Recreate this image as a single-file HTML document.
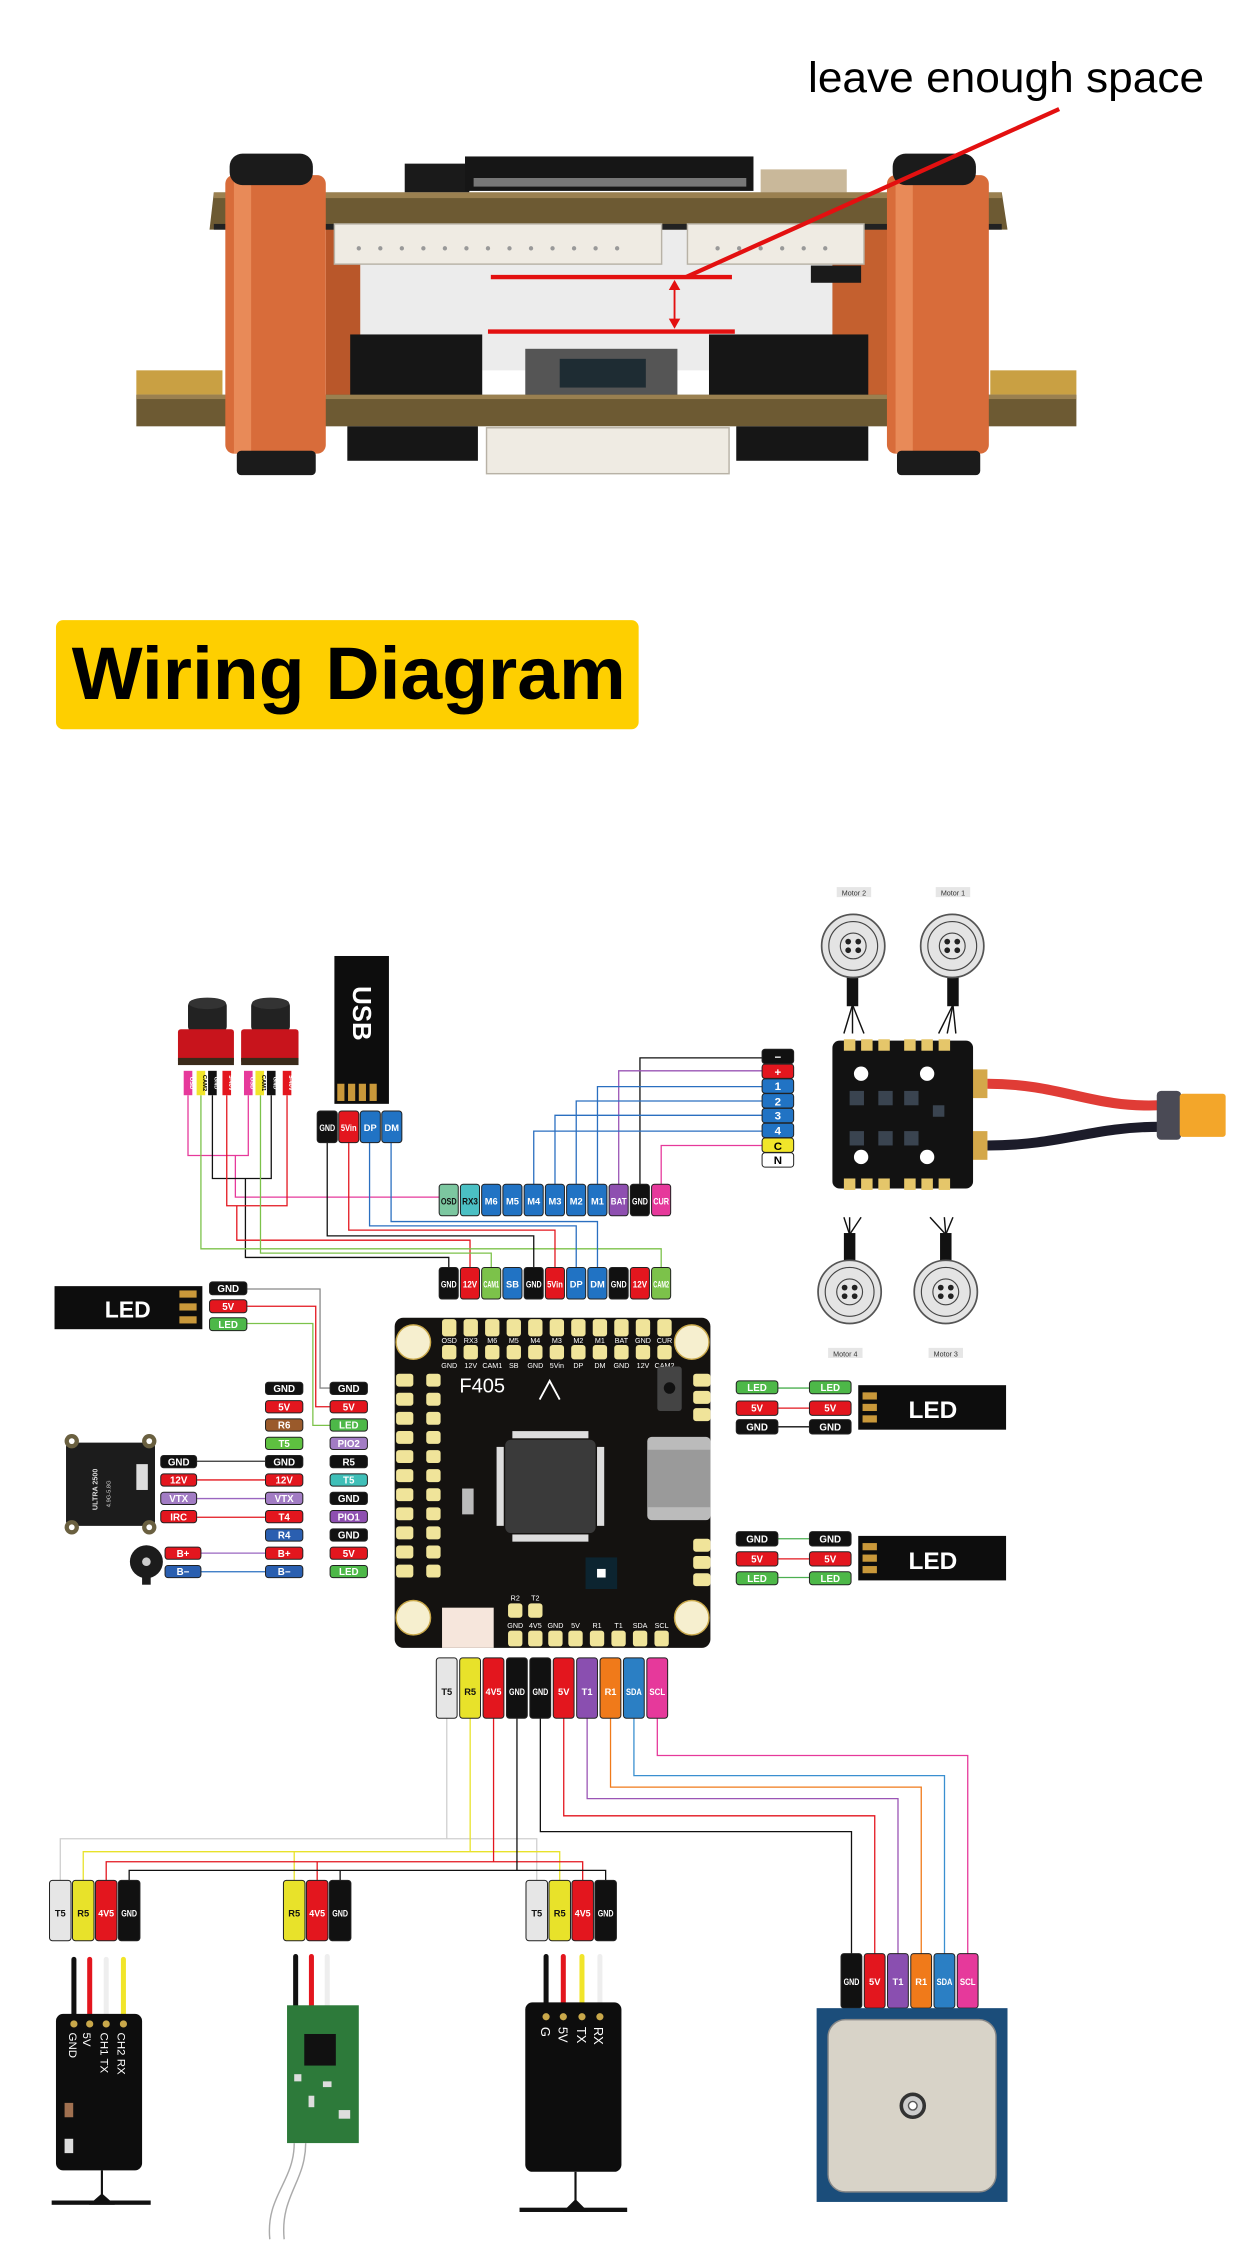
<!DOCTYPE html>
<html><head><meta charset="utf-8"><style>
html,body{margin:0;padding:0;background:#fff}
svg{display:block}
.t{font-family:"Liberation Sans",sans-serif;font-weight:bold;text-anchor:middle}
.w{fill:none;stroke-width:0.9}
.p{stroke:#222;stroke-width:0.7}
</style></head><body>
<svg width="1240" height="2245" viewBox="0 0 864 1564" preserveAspectRatio="none" xmlns="http://www.w3.org/2000/svg">
<rect width="864" height="1564" fill="#fff"/>

<!-- ===== TOP PHOTO ===== -->
<rect x="240" y="158" width="350" height="100" fill="#ececec"/>
<rect x="580" y="150" width="40" height="130" fill="#c4602f"/>
<rect x="227" y="150" width="24" height="130" fill="#b9572a"/>
<rect x="282" y="114" width="45" height="20" fill="#1a1a1a"/>
<rect x="324" y="109" width="201" height="24" fill="#161616"/>
<g fill="#777"><rect x="330" y="124" width="190" height="6"/></g>
<rect x="530" y="118" width="60" height="16" fill="#c9b89a"/>
<polygon points="149,134 698,134 702,160 146,160" fill="#6d5a33"/>
<rect x="149" y="134" width="549" height="4" fill="#9a8050"/>
<rect x="149" y="156" width="549" height="4" fill="#222"/>
<rect x="233" y="156" width="228" height="28" fill="#efebe3" stroke="#b8b2a6"/>
<rect x="479" y="156" width="123" height="28" fill="#efebe3" stroke="#b8b2a6"/>
<g fill="#999"><circle cx="250" cy="173" r="1.5"/><circle cx="265" cy="173" r="1.5"/><circle cx="280" cy="173" r="1.5"/><circle cx="295" cy="173" r="1.5"/><circle cx="310" cy="173" r="1.5"/><circle cx="325" cy="173" r="1.5"/><circle cx="340" cy="173" r="1.5"/><circle cx="355" cy="173" r="1.5"/><circle cx="370" cy="173" r="1.5"/><circle cx="385" cy="173" r="1.5"/><circle cx="400" cy="173" r="1.5"/><circle cx="415" cy="173" r="1.5"/><circle cx="430" cy="173" r="1.5"/><circle cx="500" cy="173" r="1.5"/><circle cx="515" cy="173" r="1.5"/><circle cx="530" cy="173" r="1.5"/><circle cx="545" cy="173" r="1.5"/><circle cx="560" cy="173" r="1.5"/><circle cx="575" cy="173" r="1.5"/></g>
<rect x="565" y="185" width="35" height="12" fill="#1a1a1a"/>
<rect x="244" y="233" width="92" height="44" fill="#161616"/>
<rect x="494" y="233" width="111" height="44" fill="#161616"/>
<rect x="366" y="243" width="106" height="34" fill="#555"/>
<rect x="390" y="250" width="60" height="20" fill="#1e2c33"/>
<rect x="95" y="258" width="60" height="17" fill="#c9a043"/>
<rect x="690" y="258" width="60" height="17" fill="#c9a043"/>
<rect x="95" y="275" width="655" height="22" fill="#6d5a33"/>
<rect x="95" y="275" width="655" height="3" fill="#9a8050"/>
<rect x="242" y="297" width="91" height="24" fill="#161616"/>
<rect x="513" y="297" width="92" height="24" fill="#161616"/>
<rect x="339" y="298" width="169" height="32" fill="#efebe3" stroke="#b8b2a6"/>
<rect x="157" y="122" width="70" height="194" rx="6" fill="#d86c3a"/>
<rect x="163" y="122" width="12" height="194" fill="#e88a58"/>
<rect x="618" y="122" width="71" height="194" rx="6" fill="#d86c3a"/>
<rect x="624" y="122" width="12" height="194" fill="#e88a58"/>
<rect x="160" y="107" width="58" height="22" rx="9" fill="#1b1b1b"/>
<rect x="622" y="107" width="58" height="22" rx="9" fill="#1b1b1b"/>
<rect x="165" y="314" width="55" height="17" rx="3" fill="#1b1b1b"/>
<rect x="625" y="314" width="58" height="17" rx="3" fill="#1b1b1b"/>
<text x="701" y="64" font-family="Liberation Sans,sans-serif" font-size="30" text-anchor="middle" textLength="276" lengthAdjust="spacingAndGlyphs" fill="#000">leave enough space</text>
<line x1="738" y1="76" x2="478" y2="193" stroke="#e31010" stroke-width="3"/>
<line x1="342" y1="193" x2="510" y2="193" stroke="#e31010" stroke-width="3"/>
<line x1="340" y1="231" x2="512" y2="231" stroke="#e31010" stroke-width="3"/>
<line x1="470" y1="198" x2="470" y2="226" stroke="#e31010" stroke-width="1.3"/>
<polygon points="470,195 466,202 474,202" fill="#e31010"/><polygon points="470,229 466,222 474,222" fill="#e31010"/>

<!-- title -->
<rect x="39" y="432" width="406" height="76" rx="5" fill="#fecf00"/>
<text x="243" y="487" font-family="Liberation Sans,sans-serif" font-weight="bold" font-size="52" text-anchor="middle" textLength="386" lengthAdjust="spacingAndGlyphs" fill="#000">Wiring Diagram</text>

<!-- ===== WIRES TOP ===== -->
<g class="w">
<polyline stroke="#e6399b" points="131,763 131,805 173,805 173,763"/>
<polyline stroke="#e6399b" points="164,805 164,834 306,834"/>
<polyline stroke="#111" points="148,763 148,821 189,821 189,763"/>
<polyline stroke="#111" points="171,821 171,876 312.7,876 312.7,883"/>
<polyline stroke="#e3161e" points="158,763 158,840 200,840 200,763"/>
<polyline stroke="#e3161e" points="165,840 165,864 327.5,864 327.5,883"/>
<polyline stroke="#7cc24a" points="140,763 140,870 460.7,870 460.7,883"/>
<polyline stroke="#7cc24a" points="181.5,763 181.5,873 342.3,873 342.3,883"/>
<polyline stroke="#111" points="228,796 228,861 371.9,861 371.9,883"/>
<polyline stroke="#e3161e" points="243,796 243,857 386.7,857 386.7,883"/>
<polyline stroke="#2a6fc0" points="257.5,796 257.5,854 401.5,854 401.5,883"/>
<polyline stroke="#2a6fc0" points="272.5,796 272.5,851 416.3,851 416.3,883"/>
<polyline stroke="#111" points="531,737 445.9,737 445.9,825"/>
<polyline stroke="#9a55b5" points="531,746 431.1,746 431.1,825"/>
<polyline stroke="#2a6fc0" points="531,757 416.3,757 416.3,825"/>
<polyline stroke="#2a6fc0" points="531,767 401.5,767 401.5,825"/>
<polyline stroke="#2a6fc0" points="531,777 386.7,777 386.7,825"/>
<polyline stroke="#2a6fc0" points="531,788 371.9,788 371.9,825"/>
<polyline stroke="#e6399b" points="531,798 460.7,798 460.7,825"/>
<polyline stroke="#888" points="172,898 223,898 223,967 230,967"/>
<polyline stroke="#e3161e" points="172,910 220,910 220,980 230,980"/>
<polyline stroke="#7cc24a" points="172,922 218,922 218,993 230,993"/>
<line stroke="#333" x1="137" y1="1018" x2="185" y2="1018"/>
<line stroke="#e3161e" x1="137" y1="1031" x2="185" y2="1031"/>
<line stroke="#9a66c0" x1="137" y1="1044" x2="185" y2="1044"/>
<line stroke="#e3161e" x1="137" y1="1057" x2="185" y2="1057"/>
<line stroke="#9a66c0" x1="140" y1="1082" x2="185" y2="1082"/>
<line stroke="#2a6fc0" x1="140" y1="1095" x2="185" y2="1095"/>
<line stroke="#4caf50" x1="542" y1="967" x2="564" y2="967"/>
<line stroke="#e3161e" x1="542" y1="981" x2="564" y2="981"/>
<line stroke="#111" x1="542" y1="994" x2="564" y2="994"/>
<line stroke="#4caf50" x1="542" y1="1072" x2="564" y2="1072"/>
<line stroke="#e3161e" x1="542" y1="1086" x2="564" y2="1086"/>
<line stroke="#4caf50" x1="542" y1="1099" x2="564" y2="1099"/>
</g>

<!-- cameras -->
<g>
<rect x="131" y="697" width="27" height="22" rx="4" fill="#222"/><ellipse cx="144.5" cy="699" rx="13" ry="4" fill="#333"/>
<rect x="124" y="717" width="39" height="24" rx="2" fill="#c8141c"/><rect x="124" y="737" width="39" height="5" fill="#3a2a1a"/>
<rect x="175" y="697" width="27" height="22" rx="4" fill="#222"/><ellipse cx="188.5" cy="699" rx="13" ry="4" fill="#333"/>
<rect x="168" y="717" width="40" height="24" rx="2" fill="#c8141c"/><rect x="168" y="737" width="40" height="5" fill="#3a2a1a"/>
</g>
<g font-size="4" class="t">
<rect x="128" y="746" width="6" height="17" fill="#e6399b"/><text transform="translate(132.5,754.5) rotate(90)" fill="#fff">OSD</text>
<rect x="137" y="746" width="6" height="17" fill="#f1e52a"/><text transform="translate(141.5,754.5) rotate(90)" fill="#000">CAM2</text>
<rect x="145" y="746" width="6" height="17" fill="#111"/><text transform="translate(149.5,754.5) rotate(90)" fill="#fff">GND</text>
<rect x="155" y="746" width="6" height="17" fill="#e3161e"/><text transform="translate(159.5,754.5) rotate(90)" fill="#fff">5-40V</text>
<rect x="170" y="746" width="6" height="17" fill="#e6399b"/><text transform="translate(174.5,754.5) rotate(90)" fill="#fff">OSD</text>
<rect x="178" y="746" width="6" height="17" fill="#f1e52a"/><text transform="translate(182.5,754.5) rotate(90)" fill="#000">CAM1</text>
<rect x="186" y="746" width="6" height="17" fill="#111"/><text transform="translate(190.5,754.5) rotate(90)" fill="#fff">GND</text>
<rect x="197" y="746" width="6" height="17" fill="#e3161e"/><text transform="translate(201.5,754.5) rotate(90)" fill="#fff">5-40V</text>
</g>

<!-- USB -->
<rect x="233" y="666" width="38" height="103" fill="#0d0d0d"/>
<text transform="translate(246,706) rotate(90)" class="t" font-size="18" fill="#fff">USB</text>
<g fill="#c9983a"><rect x="235" y="755" width="5" height="12"/><rect x="242.5" y="755" width="5" height="12"/><rect x="250" y="755" width="5" height="12"/><rect x="257.5" y="755" width="5" height="12"/></g>
<g class="t" font-size="6.5">
<rect class="p" x="221" y="774" width="14" height="22" rx="2" fill="#111"/><text x="228" y="788" fill="#fff" textLength="11" lengthAdjust="spacingAndGlyphs">GND</text>
<rect class="p" x="236" y="774" width="14" height="22" rx="2" fill="#e3161e"/><text x="243" y="788" fill="#fff" textLength="11" lengthAdjust="spacingAndGlyphs">5Vin</text>
<rect class="p" x="251" y="774" width="14" height="22" rx="2" fill="#2173c4"/><text x="258" y="788" fill="#fff">DP</text>
<rect class="p" x="266" y="774" width="14" height="22" rx="2" fill="#2173c4"/><text x="273" y="788" fill="#fff">DM</text>
</g>

<!-- top row -->
<g class="t" font-size="6.5">
<rect class="p" x="306" y="825" width="13.3" height="22" rx="2" fill="#7cc7a0"/><text x="312.7" y="839" fill="#111" textLength="11" lengthAdjust="spacingAndGlyphs">OSD</text>
<rect class="p" x="320.8" y="825" width="13.3" height="22" rx="2" fill="#4bc0c4"/><text x="327.5" y="839" fill="#111" textLength="11" lengthAdjust="spacingAndGlyphs">RX3</text>
<rect class="p" x="335.6" y="825" width="13.3" height="22" rx="2" fill="#2173c4"/><text x="342.3" y="839" fill="#fff">M6</text>
<rect class="p" x="350.4" y="825" width="13.3" height="22" rx="2" fill="#2173c4"/><text x="357.1" y="839" fill="#fff">M5</text>
<rect class="p" x="365.2" y="825" width="13.3" height="22" rx="2" fill="#2173c4"/><text x="371.9" y="839" fill="#fff">M4</text>
<rect class="p" x="380" y="825" width="13.3" height="22" rx="2" fill="#2173c4"/><text x="386.7" y="839" fill="#fff">M3</text>
<rect class="p" x="394.8" y="825" width="13.3" height="22" rx="2" fill="#2173c4"/><text x="401.5" y="839" fill="#fff">M2</text>
<rect class="p" x="409.6" y="825" width="13.3" height="22" rx="2" fill="#2173c4"/><text x="416.3" y="839" fill="#fff">M1</text>
<rect class="p" x="424.4" y="825" width="13.3" height="22" rx="2" fill="#8e4fb0"/><text x="431.1" y="839" fill="#fff" textLength="11" lengthAdjust="spacingAndGlyphs">BAT</text>
<rect class="p" x="439.2" y="825" width="13.3" height="22" rx="2" fill="#111"/><text x="445.9" y="839" fill="#fff" textLength="11" lengthAdjust="spacingAndGlyphs">GND</text>
<rect class="p" x="454" y="825" width="13.3" height="22" rx="2" fill="#e6399b"/><text x="460.7" y="839" fill="#fff" textLength="11" lengthAdjust="spacingAndGlyphs">CUR</text>
<!-- bottom row -->
<rect class="p" x="306" y="883" width="13.3" height="22" rx="2" fill="#111"/><text x="312.7" y="897" fill="#fff" textLength="11" lengthAdjust="spacingAndGlyphs">GND</text>
<rect class="p" x="320.8" y="883" width="13.3" height="22" rx="2" fill="#e3161e"/><text x="327.5" y="897" fill="#fff" textLength="10" lengthAdjust="spacingAndGlyphs">12V</text>
<rect class="p" x="335.6" y="883" width="13.3" height="22" rx="2" fill="#7cc24a"/><text x="342.3" y="897" fill="#fff" textLength="11" lengthAdjust="spacingAndGlyphs">CAM1</text>
<rect class="p" x="350.4" y="883" width="13.3" height="22" rx="2" fill="#2173c4"/><text x="357.1" y="897" fill="#fff">SB</text>
<rect class="p" x="365.2" y="883" width="13.3" height="22" rx="2" fill="#111"/><text x="371.9" y="897" fill="#fff" textLength="11" lengthAdjust="spacingAndGlyphs">GND</text>
<rect class="p" x="380" y="883" width="13.3" height="22" rx="2" fill="#e3161e"/><text x="386.7" y="897" fill="#fff" textLength="11" lengthAdjust="spacingAndGlyphs">5Vin</text>
<rect class="p" x="394.8" y="883" width="13.3" height="22" rx="2" fill="#2173c4"/><text x="401.5" y="897" fill="#fff">DP</text>
<rect class="p" x="409.6" y="883" width="13.3" height="22" rx="2" fill="#2173c4"/><text x="416.3" y="897" fill="#fff">DM</text>
<rect class="p" x="424.4" y="883" width="13.3" height="22" rx="2" fill="#111"/><text x="431.1" y="897" fill="#fff" textLength="11" lengthAdjust="spacingAndGlyphs">GND</text>
<rect class="p" x="439.2" y="883" width="13.3" height="22" rx="2" fill="#e3161e"/><text x="445.9" y="897" fill="#fff" textLength="10" lengthAdjust="spacingAndGlyphs">12V</text>
<rect class="p" x="454" y="883" width="13.3" height="22" rx="2" fill="#7cc24a"/><text x="460.7" y="897" fill="#fff" textLength="11" lengthAdjust="spacingAndGlyphs">CAM2</text>
</g>

<!-- ESC pins -->
<g class="t" font-size="8">
<rect class="p" x="531" y="731" width="22" height="10" rx="2" fill="#111"/><text x="542" y="739" fill="#fff">−</text>
<rect class="p" x="531" y="741.3" width="22" height="10" rx="2" fill="#e3161e"/><text x="542" y="749.5" fill="#fff">+</text>
<rect class="p" x="531" y="751.6" width="22" height="10" rx="2" fill="#2173c4"/><text x="542" y="759.5" fill="#fff">1</text>
<rect class="p" x="531" y="761.9" width="22" height="10" rx="2" fill="#2173c4"/><text x="542" y="770" fill="#fff">2</text>
<rect class="p" x="531" y="772.2" width="22" height="10" rx="2" fill="#2173c4"/><text x="542" y="780" fill="#fff">3</text>
<rect class="p" x="531" y="782.5" width="22" height="10" rx="2" fill="#2173c4"/><text x="542" y="790.5" fill="#fff">4</text>
<rect class="p" x="531" y="792.8" width="22" height="10" rx="2" fill="#f1e52a"/><text x="542" y="801" fill="#000">C</text>
<rect class="p" x="531" y="803.1" width="22" height="10" rx="2" fill="#fff"/><text x="542" y="811" fill="#000">N</text>
</g>

<!-- ESC board & power -->
<path d="M688,755 C740,755 760,772 808,770" stroke="#e03c36" stroke-width="7" fill="none"/>
<path d="M688,798 C740,798 760,785 808,785" stroke="#1c1c2a" stroke-width="7" fill="none"/>
<rect x="806" y="760" width="17" height="34" rx="3" fill="#4a4a55"/>
<rect x="822" y="762" width="32" height="30" rx="2" fill="#f3a62a"/>
<rect x="676" y="745" width="12" height="20" fill="#d4a84a"/><rect x="676" y="788" width="12" height="20" fill="#d4a84a"/>
<rect x="580" y="725" width="98" height="103" rx="5" fill="#121212"/>
<g fill="#e5c66a"><rect x="588" y="724" width="8" height="8"/><rect x="600" y="724" width="8" height="8"/><rect x="612" y="724" width="8" height="8"/><rect x="630" y="724" width="8" height="8"/><rect x="642" y="724" width="8" height="8"/><rect x="654" y="724" width="8" height="8"/><rect x="588" y="821" width="8" height="8"/><rect x="600" y="821" width="8" height="8"/><rect x="612" y="821" width="8" height="8"/><rect x="630" y="821" width="8" height="8"/><rect x="642" y="821" width="8" height="8"/><rect x="654" y="821" width="8" height="8"/></g>
<g fill="#fff"><circle cx="600" cy="748" r="5"/><circle cx="646" cy="748" r="5"/><circle cx="600" cy="806" r="5"/><circle cx="646" cy="806" r="5"/></g>
<g fill="#3a4450"><rect x="592" y="760" width="10" height="10"/><rect x="612" y="760" width="10" height="10"/><rect x="630" y="760" width="10" height="10"/><rect x="592" y="788" width="10" height="10"/><rect x="612" y="788" width="10" height="10"/><rect x="630" y="788" width="10" height="10"/><rect x="650" y="770" width="8" height="8"/></g>

<!-- motors -->
<g font-family="Liberation Sans,sans-serif" font-size="5" text-anchor="middle" fill="#333">
<rect x="583" y="618" width="24" height="7" fill="#e6e6e6"/><text x="595" y="624">Motor 2</text>
<rect x="652" y="618" width="24" height="7" fill="#e6e6e6"/><text x="664" y="624">Motor 1</text>
<rect x="577" y="939" width="24" height="7" fill="#e6e6e6"/><text x="589" y="945">Motor 4</text>
<rect x="647" y="939" width="24" height="7" fill="#e6e6e6"/><text x="659" y="945">Motor 3</text>
</g>
<g stroke="#111" stroke-width="1" fill="none">
<line x1="594" y1="700" x2="588" y2="720"/><line x1="594" y1="700" x2="594" y2="720"/><line x1="594" y1="700" x2="602" y2="720"/>
<line x1="664" y1="700" x2="654" y2="720"/><line x1="664" y1="700" x2="660" y2="720"/><line x1="664" y1="700" x2="666" y2="720"/>
<line x1="592" y1="860" x2="588" y2="848"/><line x1="592" y1="860" x2="592" y2="848"/><line x1="592" y1="860" x2="600" y2="848"/>
<line x1="659" y1="860" x2="648" y2="848"/><line x1="659" y1="860" x2="658" y2="848"/><line x1="659" y1="860" x2="664" y2="848"/>
</g>
<g fill="#111"><rect x="590" y="681" width="8" height="20"/><rect x="660" y="681" width="8" height="20"/><rect x="588" y="859" width="8" height="20"/><rect x="655" y="859" width="8" height="20"/></g>
<g stroke="#555" fill="#e4e4e4" stroke-width="1.2">
<circle cx="594.5" cy="659" r="22"/><circle cx="663.5" cy="659" r="22"/><circle cx="592" cy="900" r="22"/><circle cx="659" cy="900" r="22"/>
</g>
<g stroke="#444" fill="none" stroke-width="0.8">
<circle cx="594.5" cy="659" r="17"/><circle cx="663.5" cy="659" r="17"/><circle cx="592" cy="900" r="17"/><circle cx="659" cy="900" r="17"/>
<circle cx="594.5" cy="659" r="9"/><circle cx="663.5" cy="659" r="9"/><circle cx="592" cy="900" r="9"/><circle cx="659" cy="900" r="9"/>
</g>
<g fill="#222"><circle cx="591" cy="656" r="2"/><circle cx="598" cy="656" r="2"/><circle cx="591" cy="662" r="2"/><circle cx="598" cy="662" r="2"/><circle cx="660" cy="656" r="2"/><circle cx="667" cy="656" r="2"/><circle cx="660" cy="662" r="2"/><circle cx="667" cy="662" r="2"/><circle cx="588.5" cy="897" r="2"/><circle cx="595.5" cy="897" r="2"/><circle cx="588.5" cy="903" r="2"/><circle cx="595.5" cy="903" r="2"/><circle cx="655.5" cy="897" r="2"/><circle cx="662.5" cy="897" r="2"/><circle cx="655.5" cy="903" r="2"/><circle cx="662.5" cy="903" r="2"/></g>

<!-- left LED -->
<rect x="38" y="896" width="103" height="30" fill="#0d0d0d"/>
<text x="89" y="918" class="t" font-size="16" fill="#fff">LED</text>
<g fill="#c9983a"><rect x="125" y="899" width="12" height="5"/><rect x="125" y="908" width="12" height="5"/><rect x="125" y="917" width="12" height="5"/></g>
<g class="t" font-size="6.8">
<rect class="p" x="146" y="893" width="26" height="9" rx="2" fill="#111"/><text x="159" y="900.2" fill="#fff">GND</text>
<rect class="p" x="146" y="905.5" width="26" height="9" rx="2" fill="#e3161e"/><text x="159" y="912.7" fill="#fff">5V</text>
<rect class="p" x="146" y="918" width="26" height="9" rx="2" fill="#4db848"/><text x="159" y="925.2" fill="#fff">LED</text>
</g>

<!-- columns A/B -->
<g class="t" font-size="6.8">
<rect class="p" x="185" y="963" width="26" height="8.5" rx="2" fill="#111"/><text x="198" y="969.8" fill="#fff">GND</text>
<rect class="p" x="185" y="975.8" width="26" height="8.5" rx="2" fill="#e3161e"/><text x="198" y="982.6" fill="#fff">5V</text>
<rect class="p" x="185" y="988.5" width="26" height="8.5" rx="2" fill="#9a5a2b"/><text x="198" y="995.3" fill="#fff">R6</text>
<rect class="p" x="185" y="1001.3" width="26" height="8.5" rx="2" fill="#5ec040"/><text x="198" y="1008.1" fill="#fff">T5</text>
<rect class="p" x="185" y="1014" width="26" height="8.5" rx="2" fill="#111"/><text x="198" y="1020.8" fill="#fff">GND</text>
<rect class="p" x="185" y="1026.8" width="26" height="8.5" rx="2" fill="#e3161e"/><text x="198" y="1033.6" fill="#fff">12V</text>
<rect class="p" x="185" y="1039.6" width="26" height="8.5" rx="2" fill="#a27cc4"/><text x="198" y="1046.4" fill="#fff">VTX</text>
<rect class="p" x="185" y="1052.3" width="26" height="8.5" rx="2" fill="#e3161e"/><text x="198" y="1059.1" fill="#fff">T4</text>
<rect class="p" x="185" y="1065.1" width="26" height="8.5" rx="2" fill="#2a5fb0"/><text x="198" y="1071.9" fill="#fff">R4</text>
<rect class="p" x="185" y="1077.8" width="26" height="8.5" rx="2" fill="#e3161e"/><text x="198" y="1084.6" fill="#fff">B+</text>
<rect class="p" x="185" y="1090.6" width="26" height="8.5" rx="2" fill="#2a5fb0"/><text x="198" y="1097.4" fill="#fff">B−</text>

<rect class="p" x="230" y="963" width="26" height="8.5" rx="2" fill="#111"/><text x="243" y="969.8" fill="#fff">GND</text>
<rect class="p" x="230" y="975.8" width="26" height="8.5" rx="2" fill="#e3161e"/><text x="243" y="982.6" fill="#fff">5V</text>
<rect class="p" x="230" y="988.5" width="26" height="8.5" rx="2" fill="#4db848"/><text x="243" y="995.3" fill="#fff">LED</text>
<rect class="p" x="230" y="1001.3" width="26" height="8.5" rx="2" fill="#a27cc4"/><text x="243" y="1008.1" fill="#fff">PIO2</text>
<rect class="p" x="230" y="1014" width="26" height="8.5" rx="2" fill="#111"/><text x="243" y="1020.8" fill="#fff">R5</text>
<rect class="p" x="230" y="1026.8" width="26" height="8.5" rx="2" fill="#3fbfb8"/><text x="243" y="1033.6" fill="#fff">T5</text>
<rect class="p" x="230" y="1039.6" width="26" height="8.5" rx="2" fill="#111"/><text x="243" y="1046.4" fill="#fff">GND</text>
<rect class="p" x="230" y="1052.3" width="26" height="8.5" rx="2" fill="#8e4fb0"/><text x="243" y="1059.1" fill="#fff">PIO1</text>
<rect class="p" x="230" y="1065.1" width="26" height="8.5" rx="2" fill="#111"/><text x="243" y="1071.9" fill="#fff">GND</text>
<rect class="p" x="230" y="1077.8" width="26" height="8.5" rx="2" fill="#e3161e"/><text x="243" y="1084.6" fill="#fff">5V</text>
<rect class="p" x="230" y="1090.6" width="26" height="8.5" rx="2" fill="#4db848"/><text x="243" y="1097.4" fill="#fff">LED</text>

<rect class="p" x="112" y="1014" width="25" height="8.5" rx="2" fill="#111"/><text x="124.5" y="1020.8" fill="#fff">GND</text>
<rect class="p" x="112" y="1026.8" width="25" height="8.5" rx="2" fill="#e3161e"/><text x="124.5" y="1033.6" fill="#fff">12V</text>
<rect class="p" x="112" y="1039.6" width="25" height="8.5" rx="2" fill="#a27cc4"/><text x="124.5" y="1046.4" fill="#fff">VTX</text>
<rect class="p" x="112" y="1052.3" width="25" height="8.5" rx="2" fill="#e3161e"/><text x="124.5" y="1059.1" fill="#fff">IRC</text>
<rect class="p" x="115" y="1077.8" width="25" height="8.5" rx="2" fill="#e3161e"/><text x="127.5" y="1084.6" fill="#fff">B+</text>
<rect class="p" x="115" y="1090.6" width="25" height="8.5" rx="2" fill="#2a5fb0"/><text x="127.5" y="1097.4" fill="#fff">B−</text>
</g>
<!-- VTX module -->
<rect x="46" y="1005" width="62" height="58" rx="3" fill="#1c1c1c"/>
<g fill="#6a6040"><circle cx="50" cy="1004" r="5"/><circle cx="104" cy="1004" r="5"/><circle cx="50" cy="1064" r="5"/><circle cx="104" cy="1064" r="5"/></g>
<g fill="#fff"><circle cx="50" cy="1004" r="2"/><circle cx="104" cy="1004" r="2"/><circle cx="50" cy="1064" r="2"/><circle cx="104" cy="1064" r="2"/></g>
<rect x="95" y="1020" width="8" height="18" fill="#ddd"/>
<text transform="translate(68,1052) rotate(-90)" font-family="Liberation Sans,sans-serif" font-size="5" font-weight="bold" fill="#ddd">ULTRA 2500</text>
<text transform="translate(77,1050) rotate(-90)" font-family="Liberation Sans,sans-serif" font-size="4" fill="#ddd">4.9G-5.8G</text>
<!-- buzzer -->
<circle cx="102" cy="1088" r="11.5" fill="#1c1c1c"/><circle cx="102" cy="1088" r="3" fill="#ccc"/>
<rect x="99" y="1098" width="6" height="6" fill="#1c1c1c"/>

<!-- FC board -->
<rect x="275" y="918" width="220" height="230" rx="6" fill="#141210"/>
<g fill="#f0e49a">
<rect x="308" y="919" width="10" height="12" rx="2"/><rect x="323" y="919" width="10" height="12" rx="2"/><rect x="338" y="919" width="10" height="12" rx="2"/><rect x="353" y="919" width="10" height="12" rx="2"/><rect x="368" y="919" width="10" height="12" rx="2"/><rect x="383" y="919" width="10" height="12" rx="2"/><rect x="398" y="919" width="10" height="12" rx="2"/><rect x="413" y="919" width="10" height="12" rx="2"/><rect x="428" y="919" width="10" height="12" rx="2"/><rect x="443" y="919" width="10" height="12" rx="2"/><rect x="458" y="919" width="10" height="12" rx="2"/>
<rect x="308" y="937" width="10" height="10" rx="2"/><rect x="323" y="937" width="10" height="10" rx="2"/><rect x="338" y="937" width="10" height="10" rx="2"/><rect x="353" y="937" width="10" height="10" rx="2"/><rect x="368" y="937" width="10" height="10" rx="2"/><rect x="383" y="937" width="10" height="10" rx="2"/><rect x="398" y="937" width="10" height="10" rx="2"/><rect x="413" y="937" width="10" height="10" rx="2"/><rect x="428" y="937" width="10" height="10" rx="2"/><rect x="443" y="937" width="10" height="10" rx="2"/><rect x="458" y="937" width="10" height="10" rx="2"/>
<rect x="276" y="957" width="12" height="9" rx="2"/><rect x="276" y="970.3" width="12" height="9" rx="2"/><rect x="276" y="983.6" width="12" height="9" rx="2"/><rect x="276" y="996.9" width="12" height="9" rx="2"/><rect x="276" y="1010.2" width="12" height="9" rx="2"/><rect x="276" y="1023.5" width="12" height="9" rx="2"/><rect x="276" y="1036.8" width="12" height="9" rx="2"/><rect x="276" y="1050.1" width="12" height="9" rx="2"/><rect x="276" y="1063.4" width="12" height="9" rx="2"/><rect x="276" y="1076.7" width="12" height="9" rx="2"/><rect x="276" y="1090" width="12" height="9" rx="2"/>
<rect x="297" y="957" width="10" height="9" rx="2"/><rect x="297" y="970.3" width="10" height="9" rx="2"/><rect x="297" y="983.6" width="10" height="9" rx="2"/><rect x="297" y="996.9" width="10" height="9" rx="2"/><rect x="297" y="1010.2" width="10" height="9" rx="2"/><rect x="297" y="1023.5" width="10" height="9" rx="2"/><rect x="297" y="1036.8" width="10" height="9" rx="2"/><rect x="297" y="1050.1" width="10" height="9" rx="2"/><rect x="297" y="1063.4" width="10" height="9" rx="2"/><rect x="297" y="1076.7" width="10" height="9" rx="2"/><rect x="297" y="1090" width="10" height="9" rx="2"/>
<rect x="483" y="957" width="12" height="9" rx="2"/><rect x="483" y="969" width="12" height="9" rx="2"/><rect x="483" y="981" width="12" height="9" rx="2"/>
<rect x="483" y="1072" width="12" height="9" rx="2"/><rect x="483" y="1084" width="12" height="9" rx="2"/><rect x="483" y="1096" width="12" height="9" rx="2"/>
<rect x="354" y="1136" width="10" height="11" rx="2"/><rect x="368" y="1136" width="10" height="11" rx="2"/><rect x="382" y="1136" width="10" height="11" rx="2"/><rect x="396" y="1136" width="10" height="11" rx="2"/><rect x="411" y="1136" width="10" height="11" rx="2"/><rect x="426" y="1136" width="10" height="11" rx="2"/><rect x="441" y="1136" width="10" height="11" rx="2"/><rect x="456" y="1136" width="10" height="11" rx="2"/>
<rect x="354" y="1117" width="10" height="10" rx="2"/><rect x="368" y="1117" width="10" height="10" rx="2"/>
</g>
<g fill="#f6efcf" stroke="#c9a84a" stroke-width="1"><circle cx="288" cy="935" r="12"/><circle cx="482" cy="935" r="12"/><circle cx="288" cy="1127" r="12"/><circle cx="482" cy="1127" r="12"/></g>
<g fill="#fff" font-family="Liberation Sans,sans-serif" font-size="5" text-anchor="middle">
<text x="313" y="935.5">OSD</text><text x="328" y="935.5">RX3</text><text x="343" y="935.5">M6</text><text x="358" y="935.5">M5</text><text x="373" y="935.5">M4</text><text x="388" y="935.5">M3</text><text x="403" y="935.5">M2</text><text x="418" y="935.5">M1</text><text x="433" y="935.5">BAT</text><text x="448" y="935.5">GND</text><text x="463" y="935.5">CUR</text>
<text x="313" y="953">GND</text><text x="328" y="953">12V</text><text x="343" y="953">CAM1</text><text x="358" y="953">SB</text><text x="373" y="953">GND</text><text x="388" y="953">5Vin</text><text x="403" y="953">DP</text><text x="418" y="953">DM</text><text x="433" y="953">GND</text><text x="448" y="953">12V</text><text x="463" y="953">CAM2</text>
<text x="359" y="1134">GND</text><text x="373" y="1134">4V5</text><text x="387" y="1134">GND</text><text x="401" y="1134">5V</text><text x="416" y="1134">R1</text><text x="431" y="1134">T1</text><text x="446" y="1134">SDA</text><text x="461" y="1134">SCL</text>
<text x="359" y="1115">R2</text><text x="373" y="1115">T2</text>
</g>
<text x="336" y="970" font-family="Liberation Sans,sans-serif" font-size="14" text-anchor="middle" fill="#fff">F405</text>
<polyline points="376,975 383,962 390,975" fill="none" stroke="#fff" stroke-width="1.3"/>
<rect x="352" y="1003" width="63" height="65" rx="4" fill="#3a3a3a"/>
<g fill="#ddd"><rect x="346" y="1008" width="5" height="55"/><rect x="416" y="1008" width="5" height="55"/><rect x="357" y="997" width="53" height="5"/><rect x="357" y="1069" width="53" height="5"/></g>
<rect x="451" y="1001" width="44" height="58" rx="3" fill="#bbbbbb"/>
<rect x="451" y="1010" width="44" height="40" fill="#9a9a9a"/>
<rect x="458" y="952" width="17" height="31" rx="2" fill="#444"/><circle cx="466.5" cy="967" r="4" fill="#111"/>
<rect x="308" y="1120" width="36" height="28" fill="#f6e6dc"/>
<rect x="408" y="1085" width="22" height="22" fill="#0c2430"/><rect x="416" y="1093" width="6" height="6" fill="#fff"/>
<rect x="322" y="1037" width="8" height="18" fill="#bbb"/>

<!-- right LEDs -->
<g class="t" font-size="6.8">
<rect class="p" x="513" y="962" width="29" height="9" rx="2" fill="#4db848"/><text x="527.5" y="969" fill="#fff">LED</text>
<rect class="p" x="513" y="976" width="29" height="10" rx="2" fill="#e3161e"/><text x="527.5" y="983.5" fill="#fff">5V</text>
<rect class="p" x="513" y="989" width="29" height="10" rx="2" fill="#111"/><text x="527.5" y="996.5" fill="#fff">GND</text>
<rect class="p" x="564" y="962" width="29" height="9" rx="2" fill="#4db848"/><text x="578.5" y="969" fill="#fff">LED</text>
<rect class="p" x="564" y="976" width="29" height="10" rx="2" fill="#e3161e"/><text x="578.5" y="983.5" fill="#fff">5V</text>
<rect class="p" x="564" y="989" width="29" height="10" rx="2" fill="#111"/><text x="578.5" y="996.5" fill="#fff">GND</text>
<rect class="p" x="513" y="1067" width="29" height="10" rx="2" fill="#111"/><text x="527.5" y="1074.5" fill="#fff">GND</text>
<rect class="p" x="513" y="1081" width="29" height="10" rx="2" fill="#e3161e"/><text x="527.5" y="1088.5" fill="#fff">5V</text>
<rect class="p" x="513" y="1095" width="29" height="9" rx="2" fill="#4db848"/><text x="527.5" y="1102" fill="#fff">LED</text>
<rect class="p" x="564" y="1067" width="29" height="10" rx="2" fill="#111"/><text x="578.5" y="1074.5" fill="#fff">GND</text>
<rect class="p" x="564" y="1081" width="29" height="10" rx="2" fill="#e3161e"/><text x="578.5" y="1088.5" fill="#fff">5V</text>
<rect class="p" x="564" y="1095" width="29" height="9" rx="2" fill="#4db848"/><text x="578.5" y="1102" fill="#fff">LED</text>
</g>
<rect x="598" y="965" width="103" height="31" fill="#0d0d0d"/><text x="650" y="988" class="t" font-size="17" fill="#fff">LED</text>
<rect x="598" y="1070" width="103" height="31" fill="#0d0d0d"/><text x="650" y="1093" class="t" font-size="17" fill="#fff">LED</text>
<g fill="#c9983a"><rect x="601" y="970" width="10" height="5"/><rect x="601" y="978" width="10" height="5"/><rect x="601" y="986" width="10" height="5"/><rect x="601" y="1075" width="10" height="5"/><rect x="601" y="1083" width="10" height="5"/><rect x="601" y="1091" width="10" height="5"/></g>

<!-- ===== BOTTOM WIRES ===== -->
<g class="w">
<polyline stroke="#cfcfcf" points="311.3,1197 311.3,1281"/>
<polyline stroke="#cfcfcf" points="42,1310 42,1281 374,1281 374,1310"/>
<polyline stroke="#e8e22a" points="327.6,1197 327.6,1290"/>
<polyline stroke="#e8e22a" points="58,1310 58,1290 390,1290 390,1310"/><line stroke="#e8e22a" x1="205" y1="1290" x2="205" y2="1310"/>
<polyline stroke="#e3161e" points="343.9,1197 343.9,1297"/>
<polyline stroke="#e3161e" points="74,1310 74,1297 406,1297 406,1310"/><line stroke="#e3161e" x1="221" y1="1297" x2="221" y2="1310"/>
<polyline stroke="#111" points="360.2,1197 360.2,1303"/>
<polyline stroke="#111" points="90,1310 90,1303 422,1303 422,1310"/><line stroke="#111" x1="237" y1="1303" x2="237" y2="1310"/>
<polyline stroke="#111" points="376.5,1197 376.5,1276 593.3,1276 593.3,1361"/>
<polyline stroke="#e3161e" points="392.8,1197 392.8,1265 609.5,1265 609.5,1361"/>
<polyline stroke="#9a55b5" points="409.1,1197 409.1,1253 625.7,1253 625.7,1361"/>
<polyline stroke="#f07a1a" points="425.4,1197 425.4,1245 641.9,1245 641.9,1361"/>
<polyline stroke="#3a8fd0" points="441.7,1197 441.7,1237 658.1,1237 658.1,1361"/>
<polyline stroke="#e6399b" points="458,1197 458,1223 674.3,1223 674.3,1361"/>
</g>

<!-- FC bottom pins -->
<g class="t" font-size="6.5">
<rect class="p" x="304" y="1155" width="14.5" height="42" rx="2" fill="#e6e6e6"/><text x="311.3" y="1181" fill="#111">T5</text>
<rect class="p" x="320.3" y="1155" width="14.5" height="42" rx="2" fill="#e8e22a"/><text x="327.6" y="1181" fill="#111">R5</text>
<rect class="p" x="336.6" y="1155" width="14.5" height="42" rx="2" fill="#e3161e"/><text x="343.9" y="1181" fill="#fff" textLength="11" lengthAdjust="spacingAndGlyphs">4V5</text>
<rect class="p" x="352.9" y="1155" width="14.5" height="42" rx="2" fill="#111"/><text x="360.2" y="1181" fill="#fff" textLength="11" lengthAdjust="spacingAndGlyphs">GND</text>
<rect class="p" x="369.2" y="1155" width="14.5" height="42" rx="2" fill="#111"/><text x="376.5" y="1181" fill="#fff" textLength="11" lengthAdjust="spacingAndGlyphs">GND</text>
<rect class="p" x="385.5" y="1155" width="14.5" height="42" rx="2" fill="#e3161e"/><text x="392.8" y="1181" fill="#fff">5V</text>
<rect class="p" x="401.8" y="1155" width="14.5" height="42" rx="2" fill="#8a4fb0"/><text x="409.1" y="1181" fill="#fff">T1</text>
<rect class="p" x="418.1" y="1155" width="14.5" height="42" rx="2" fill="#f07a1a"/><text x="425.4" y="1181" fill="#fff">R1</text>
<rect class="p" x="434.4" y="1155" width="14.5" height="42" rx="2" fill="#2b7fc4"/><text x="441.7" y="1181" fill="#fff" textLength="11" lengthAdjust="spacingAndGlyphs">SDA</text>
<rect class="p" x="450.7" y="1155" width="14.5" height="42" rx="2" fill="#e6399b"/><text x="458" y="1181" fill="#fff" textLength="11" lengthAdjust="spacingAndGlyphs">SCL</text>
<!-- groups -->
<rect class="p" x="34.5" y="1310" width="15" height="42" rx="2" fill="#e6e6e6"/><text x="42" y="1335" fill="#111">T5</text>
<rect class="p" x="50.5" y="1310" width="15" height="42" rx="2" fill="#e8e22a"/><text x="58" y="1335" fill="#111">R5</text>
<rect class="p" x="66.5" y="1310" width="15" height="42" rx="2" fill="#e3161e"/><text x="74" y="1335" fill="#fff" textLength="11" lengthAdjust="spacingAndGlyphs">4V5</text>
<rect class="p" x="82.5" y="1310" width="15" height="42" rx="2" fill="#111"/><text x="90" y="1335" fill="#fff" textLength="11" lengthAdjust="spacingAndGlyphs">GND</text>
<rect class="p" x="197.5" y="1310" width="15" height="42" rx="2" fill="#e8e22a"/><text x="205" y="1335" fill="#111">R5</text>
<rect class="p" x="213.5" y="1310" width="15" height="42" rx="2" fill="#e3161e"/><text x="221" y="1335" fill="#fff" textLength="11" lengthAdjust="spacingAndGlyphs">4V5</text>
<rect class="p" x="229.5" y="1310" width="15" height="42" rx="2" fill="#111"/><text x="237" y="1335" fill="#fff" textLength="11" lengthAdjust="spacingAndGlyphs">GND</text>
<rect class="p" x="366.5" y="1310" width="15" height="42" rx="2" fill="#e6e6e6"/><text x="374" y="1335" fill="#111">T5</text>
<rect class="p" x="382.5" y="1310" width="15" height="42" rx="2" fill="#e8e22a"/><text x="390" y="1335" fill="#111">R5</text>
<rect class="p" x="398.5" y="1310" width="15" height="42" rx="2" fill="#e3161e"/><text x="406" y="1335" fill="#fff" textLength="11" lengthAdjust="spacingAndGlyphs">4V5</text>
<rect class="p" x="414.5" y="1310" width="15" height="42" rx="2" fill="#111"/><text x="422" y="1335" fill="#fff" textLength="11" lengthAdjust="spacingAndGlyphs">GND</text>
<!-- GPS pins -->
<rect class="p" x="586" y="1361" width="14.5" height="38" rx="2" fill="#111"/><text x="593.3" y="1383" fill="#fff" textLength="11" lengthAdjust="spacingAndGlyphs">GND</text>
<rect class="p" x="602.2" y="1361" width="14.5" height="38" rx="2" fill="#e3161e"/><text x="609.5" y="1383" fill="#fff">5V</text>
<rect class="p" x="618.4" y="1361" width="14.5" height="38" rx="2" fill="#8a4fb0"/><text x="625.7" y="1383" fill="#fff">T1</text>
<rect class="p" x="634.6" y="1361" width="14.5" height="38" rx="2" fill="#f07a1a"/><text x="641.9" y="1383" fill="#fff">R1</text>
<rect class="p" x="650.8" y="1361" width="14.5" height="38" rx="2" fill="#2b7fc4"/><text x="658.1" y="1383" fill="#fff" textLength="11" lengthAdjust="spacingAndGlyphs">SDA</text>
<rect class="p" x="667" y="1361" width="14.5" height="38" rx="2" fill="#e6399b"/><text x="674.3" y="1383" fill="#fff" textLength="11" lengthAdjust="spacingAndGlyphs">SCL</text>
</g>
<!-- GPS -->
<rect x="569" y="1399" width="133" height="135" fill="#1b4d7a"/>
<rect x="577" y="1407" width="117" height="120" rx="12" fill="#d8d3c8" stroke="#888" stroke-width="1"/>
<circle cx="636" cy="1467" r="8" fill="#ccc" stroke="#333" stroke-width="2.5"/><circle cx="636" cy="1467" r="3" fill="#fff" stroke="#555"/>

<!-- receiver 1 -->
<g stroke-width="3.5" stroke-linecap="round"><line x1="51.5" y1="1365" x2="51.5" y2="1405" stroke="#111"/><line x1="62.5" y1="1365" x2="62.5" y2="1405" stroke="#e3161e"/><line x1="74" y1="1365" x2="74" y2="1405" stroke="#eee"/><line x1="86" y1="1365" x2="86" y2="1405" stroke="#f1e52a"/></g>
<rect x="39" y="1403" width="60" height="109" rx="5" fill="#0d0d0d"/>
<g fill="#c9a84a"><circle cx="51.5" cy="1410" r="2.5"/><circle cx="62.5" cy="1410" r="2.5"/><circle cx="74" cy="1410" r="2.5"/><circle cx="86" cy="1410" r="2.5"/></g>
<g font-family="Liberation Sans,sans-serif" font-size="8" fill="#fff">
<text transform="translate(48,1416) rotate(90)">GND</text><text transform="translate(58,1416) rotate(90)">5V</text><text transform="translate(70,1416) rotate(90)">CH1 TX</text><text transform="translate(82,1416) rotate(90)">CH2 RX</text></g>
<rect x="45" y="1465" width="6" height="10" fill="#a07050"/><rect x="45" y="1490" width="6" height="10" fill="#ddd"/>
<line x1="71" y1="1512" x2="71" y2="1533" stroke="#111" stroke-width="1.5"/><rect x="36" y="1533" width="69" height="3" fill="#111"/><polygon points="62,1536 71,1528 80,1536" fill="#111"/>
<!-- receiver 2 -->
<g stroke-width="3.5" stroke-linecap="round"><line x1="206" y1="1363" x2="206" y2="1400" stroke="#111"/><line x1="217" y1="1363" x2="217" y2="1400" stroke="#e3161e"/><line x1="228" y1="1363" x2="228" y2="1400" stroke="#eee"/></g>
<rect x="200" y="1397" width="50" height="96" fill="#2d7a3a"/>
<rect x="212" y="1417" width="22" height="22" fill="#111"/>
<g fill="#ddd"><rect x="205" y="1445" width="5" height="5"/><rect x="225" y="1450" width="6" height="4"/><rect x="215" y="1460" width="4" height="8"/><rect x="236" y="1470" width="8" height="6"/></g>
<path d="M205,1493 C205,1520 185,1530 188,1560 M213,1493 C213,1520 195,1530 198,1560" stroke="#aaa" fill="none"/>
<!-- receiver 3 -->
<g stroke-width="3.5" stroke-linecap="round"><line x1="380.5" y1="1363" x2="380.5" y2="1398" stroke="#111"/><line x1="392.5" y1="1363" x2="392.5" y2="1398" stroke="#e3161e"/><line x1="405.5" y1="1363" x2="405.5" y2="1398" stroke="#f1e52a"/><line x1="418" y1="1363" x2="418" y2="1398" stroke="#eee"/></g>
<rect x="366" y="1395" width="67" height="118" rx="5" fill="#0d0d0d"/>
<g fill="#c9a84a"><circle cx="380.5" cy="1405" r="2.5"/><circle cx="392.5" cy="1405" r="2.5"/><circle cx="405.5" cy="1405" r="2.5"/><circle cx="418" cy="1405" r="2.5"/></g>
<g font-family="Liberation Sans,sans-serif" font-size="9" fill="#fff">
<text transform="translate(377,1412) rotate(90)">G</text><text transform="translate(389,1412) rotate(90)">5V</text><text transform="translate(402,1412) rotate(90)">TX</text><text transform="translate(414,1412) rotate(90)">RX</text></g>
<line x1="401" y1="1513" x2="401" y2="1538" stroke="#111" stroke-width="1.5"/><rect x="362" y="1538" width="75" height="3" fill="#111"/><polygon points="392,1541 401,1532 410,1541" fill="#111"/>
</svg>
</body></html>
